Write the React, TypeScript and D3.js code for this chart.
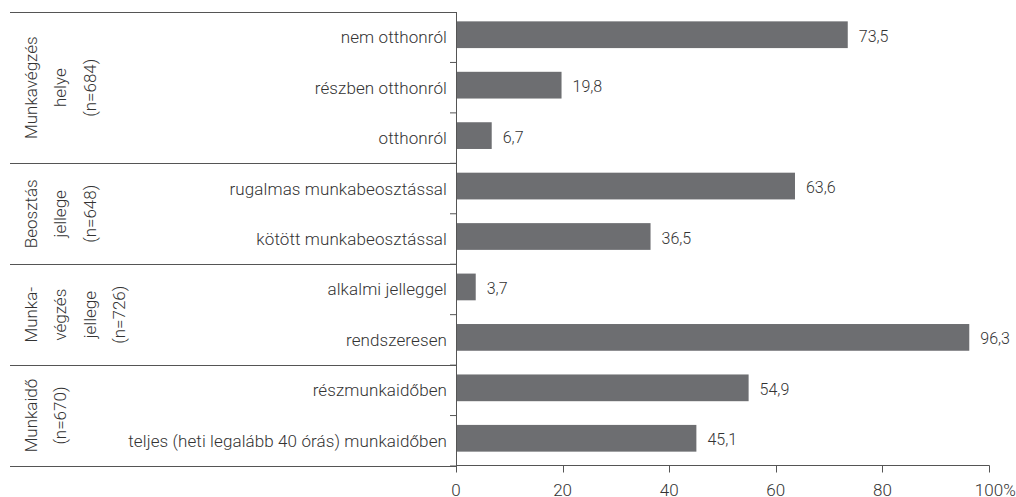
import React from "react";
import * as d3 from "d3";

const categories = [
  "nem otthonról",
  "részben otthonról",
  "otthonról",
  "rugalmas munkabeosztással",
  "kötött munkabeosztással",
  "alkalmi jelleggel",
  "rendszeresen",
  "részmunkaidőben",
  "teljes (heti legalább 40 órás) munkaidőben",
];
const values = [73.5, 19.8, 6.7, 63.6, 36.5, 3.7, 96.3, 54.9, 45.1];
const groupLabels = [
  ["Munkavégzés", "helye", "(n=684)"],
  ["Beosztás", "jellege", "(n=648)"],
  ["Munka-", "végzés", "jellege", "(n=726)"],
  ["Munkaidő", "(n=670)"],
];
const groupSizes = [3, 2, 2, 2];
const xTicks = [0, 20, 40, 60, 80, 100];

const W = 1016;
const H = 497;
const FONT = "Roboto, 'Open Sans', sans-serif";
const TEXT = "#333";
const LINE = "#555";
const BAR = "#6d6e71";

export default function App() {
  const x = d3.scaleLinear().domain([0, 100]).range([456, 989]);
  const y = d3.scaleBand<string>().domain(categories).range([12, 466]).padding(0);
  const step = y.step();
  const barH = step * 0.53;
  const fmt = (v: number) => d3.format(".1f")(v).replace(".", ",");

  const bounds: number[] = [];
  let acc = 0;
  bounds.push(y(categories[0])!);
  groupSizes.forEach((s) => {
    acc += s;
    bounds.push(acc < categories.length ? y(categories[acc])! : y.range()[1]);
  });

  const axisY = 465.5;

  return (
    <svg
      width={W}
      height={H}
      style={{ position: "fixed", left: 0, top: 0, background: "#fff" }}
      fontFamily={FONT}
    >
      {categories.map((c, i) => {
        const y0 = y(c)!;
        return (
          <g key={c}>
            <rect
              x={x(0)}
              y={y0 + (step - barH) / 2 - 2.5}
              width={x(values[i]) - x(0)}
              height={barH}
              fill={BAR}
            />
            <text
              x={x(values[i]) + 11}
              y={y0 + step / 2 - 1}
              dy="0.35em"
              fontSize={16}
              fontWeight={300}
              fill={TEXT}
            >
              {fmt(values[i])}
            </text>
            <text
              x={447}
              y={y0 + step / 2}
              dy="0.35em"
              textAnchor="end"
              fontSize={17}
              fontWeight={300}
              letterSpacing={0.1}
              fill={TEXT}
            >
              {c}
            </text>
          </g>
        );
      })}

      {categories.map((c, i) => (
        <line
          key={"t" + i}
          x1={450}
          x2={456}
          y1={y(c)! + step}
          y2={y(c)! + step}
          stroke={LINE}
          strokeWidth={1}
        />
      ))}

      {bounds.map((b, i) => (
        <line
          key={"g" + i}
          x1={10}
          x2={456}
          y1={Math.round(b) + 0.5}
          y2={Math.round(b) + 0.5}
          stroke={LINE}
          strokeWidth={1}
        />
      ))}

      {groupLabels.map((lines, gi) => {
        const cy = (bounds[gi] + bounds[gi + 1]) / 2;
        return lines.map((ln, li) => (
          <text
            key={"gl" + gi + "-" + li}
            transform={`translate(${37 + li * 29.3},${cy}) rotate(-90)`}
            textAnchor="middle"
            fontSize={17}
            fontWeight={300}
            fill={TEXT}
          >
            {ln}
          </text>
        ));
      })}

      <line x1={456.5} x2={456.5} y1={12} y2={472} stroke={LINE} strokeWidth={1} />

      <line x1={456} x2={x(100) + 0.5} y1={axisY} y2={axisY} stroke={LINE} strokeWidth={1} />
      {xTicks.map((t) => (
        <g key={"x" + t}>
          <line
            x1={Math.round(x(t)) + 0.5}
            x2={Math.round(x(t)) + 0.5}
            y1={axisY}
            y2={axisY + 7}
            stroke={LINE}
            strokeWidth={1}
          />
          <text
            x={x(t)}
            y={495.5}
            textAnchor="middle"
            fontSize={17}
            fontWeight={300}
            fill={TEXT}
          >
            {t}
          </text>
          {t === 100 && (
            <text x={x(t) + 14.3} y={495.5} fontSize={17} fontWeight={300} fill={TEXT}>
              %
            </text>
          )}
        </g>
      ))}
    </svg>
  );
}
